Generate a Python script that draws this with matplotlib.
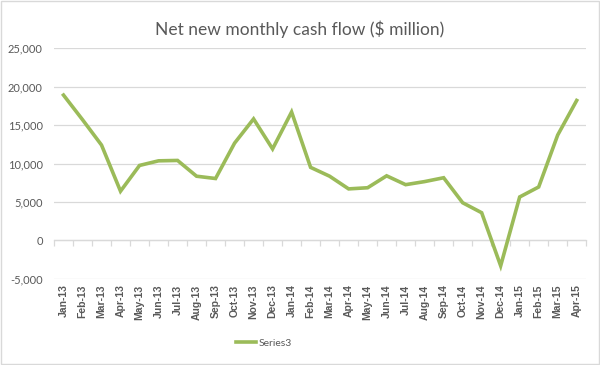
import numpy as np
import matplotlib
matplotlib.use("Agg")
import matplotlib.pyplot as plt
from matplotlib.ticker import FuncFormatter, MultipleLocator

plt.rcParams["font.family"] = ["Lato", "DejaVu Sans"]

# Monthly net new cash flow, $ million
months = ["Jan-13", "Feb-13", "Mar-13", "Apr-13", "May-13", "Jun-13", "Jul-13",
          "Aug-13", "Sep-13", "Oct-13", "Nov-13", "Dec-13", "Jan-14", "Feb-14",
          "Mar-14", "Apr-14", "May-14", "Jun-14", "Jul-14", "Aug-14", "Sep-14",
          "Oct-14", "Nov-14", "Dec-14", "Jan-15", "Feb-15", "Mar-15", "Apr-15"]
cash_flow = [18900, 15700, 12400, 6400, 9750, 10350, 10400,
             8350, 8050, 12650, 15800, 11900, 16700, 9500,
             8350, 6700, 6850, 8400, 7250, 7650, 8150,
             4900, 3600, -3300, 5650, 6950, 13700, 18200]
series_name = "Series3"

GREEN = "#9bbb59"
GRID = "#d9d9d9"
TEXT = "#595959"

fig = plt.figure(figsize=(6, 3.65), dpi=100)
ax = fig.add_axes([0.09, 0.236, 0.887, 0.632])

x = np.arange(len(months))
ax.plot(x, cash_flow, color=GREEN, lw=2.6, solid_joinstyle="miter", label=series_name)

ymin, ymax = -5000, 25000
ax.set_ylim(ymin, ymax)
ax.set_xlim(-0.5, len(months) - 0.5)
ax.yaxis.set_major_locator(MultipleLocator(5000))
ax.yaxis.set_major_formatter(FuncFormatter(lambda v, p: f"{v:,.0f}"))
ax.grid(axis="y", color=GRID, lw=0.9)
ax.set_axisbelow(True)
for s in ax.spines.values():
    s.set_visible(False)
ax.tick_params(axis="y", length=0, labelsize=8, labelcolor=TEXT, pad=8)

# category labels sit at the bottom of the plot
ax.set_xticks(x)
ax.set_xticklabels(months, rotation=90, fontsize=7.5, fontweight="bold", color=TEXT,
                   family=["Liberation Sans Narrow", "Liberation Sans", "DejaVu Sans"])
ax.tick_params(axis="x", length=0, pad=4)

# horizontal category axis drawn through zero, ticks between categories
zero_frac = (0 - ymin) / (ymax - ymin)
sec = ax.secondary_xaxis(zero_frac)
sec.set_xticks(np.arange(len(months) + 1) - 0.5)
sec.set_xticklabels([])
sec.tick_params(axis="x", direction="out", length=4, color=GRID, width=0.9)
sec.spines["bottom"].set_color(GRID)
sec.spines["bottom"].set_linewidth(0.9)
sec.spines["top"].set_visible(False)

fig.suptitle("Net new monthly cash flow ($ million)", x=0.5, y=0.945,
             fontsize=12.5, color=TEXT)

leg = fig.legend(loc="center", bbox_to_anchor=(0.44, 0.06), frameon=False,
                 fontsize=7.5, handlelength=1.9, handletextpad=0.2)
for t in leg.get_texts():
    t.set_color(TEXT)

# outer chart border
fig.patches.append(plt.Rectangle((0.002, 0.003), 0.996, 0.994, transform=fig.transFigure,
                                 fill=False, edgecolor=GRID, lw=1))

fig.savefig("out.png", dpi=100)
